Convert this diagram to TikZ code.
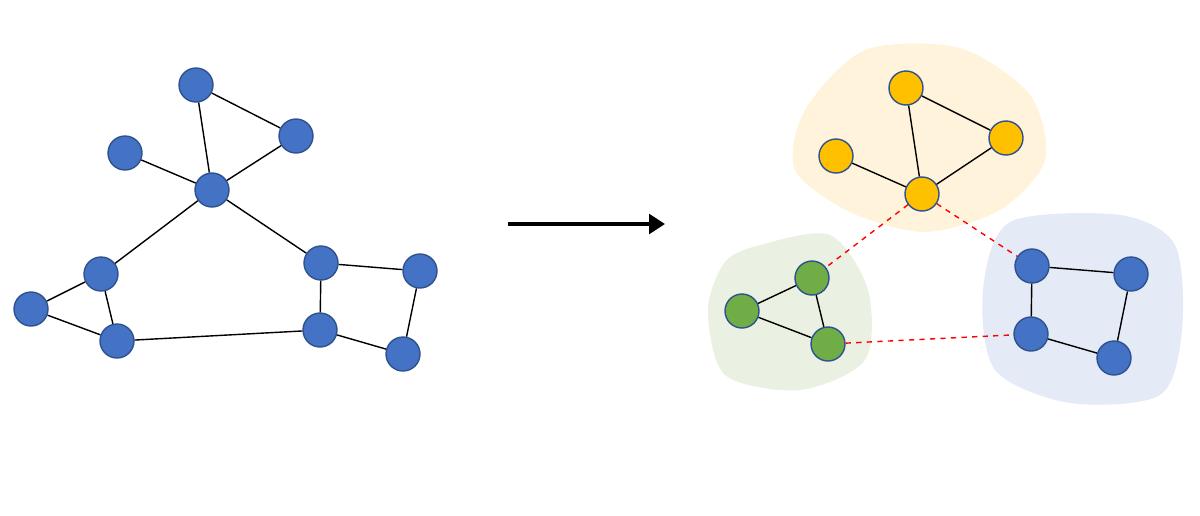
\documentclass[tikz,border=0pt]{standalone}
\usepackage{tikz}
\usetikzlibrary{arrows.meta}
\definecolor{nodeblue}{HTML}{4472C4}
\definecolor{nodeedge}{HTML}{2F528F}
\definecolor{nodeyellow}{HTML}{FFC000}
\definecolor{nodegreen}{HTML}{70AD47}
\definecolor{blobyellow}{HTML}{FFF4DB}
\definecolor{blobgreen}{HTML}{EAF1E2}
\definecolor{blobblue}{HTML}{E4EAF6}
\begin{document}
\begin{tikzpicture}[
        x=0.02cm, y=-0.02cm,
        vertex/.style={circle, draw=nodeedge, line width=0.8pt, minimum size=0.68cm, inner sep=0pt},
        bluev/.style={vertex, fill=nodeblue},
        yellowv/.style={vertex, fill=nodeyellow},
        greenv/.style={vertex, fill=nodegreen},
        link/.style={line width=0.8pt},
        cut/.style={red, dashed, line width=0.8pt}
    ]
        \useasboundingbox (0,0) rectangle (1200,515);

        % Clusters
        \fill[blobyellow] plot[smooth cycle] coordinates {(865,50) (960,48) (1030,95) (1045,160) (1000,210) (925,232) (850,212) (795,170) (805,110)};
        \fill[blobgreen] plot[smooth cycle] coordinates {(760,245) (830,235) (868,290) (865,360) (800,390) (725,375) (708,310) (725,262)};
        \fill[blobblue] plot[smooth cycle] coordinates {(1010,222) (1120,215) (1175,245) (1182,330) (1160,395) (1070,403) (995,370) (983,290)};

        % Input graph
        \node[bluev] (a) at (196,85) {};
        \node[bluev] (b) at (296,136) {};
        \node[bluev] (c) at (125,153) {};
        \node[bluev] (d) at (212,190) {};
        \node[bluev] (e) at (101,274) {};
        \node[bluev] (f) at (31,309) {};
        \node[bluev] (g) at (117,341) {};
        \node[bluev] (h) at (321,263) {};
        \node[bluev] (i) at (420,271) {};
        \node[bluev] (j) at (320,330) {};
        \node[bluev] (k) at (403,354) {};
        \begin{scope}[on background layer/.style={}]
        \end{scope}
        \foreach \u/\v in {a/b, a/d, b/d, c/d, d/e, d/h, e/f, e/g, f/g, g/j, h/i, h/j, i/k, j/k}
            \draw[link] (\u) -- (\v);

        % Arrow
        \coordinate (arrowstart) at (508,224);
        \coordinate (arrowend) at (665,224);
        \draw[line width=2.6pt, -{Triangle[length=9pt, width=11pt]}] (arrowstart) -- (arrowend);

        % Clustered graph
        \node[yellowv] (y1) at (906,88) {};
        \node[yellowv] (y2) at (1006,138) {};
        \node[yellowv] (y3) at (836,156) {};
        \node[yellowv] (y4) at (922,194) {};
        \node[greenv] (g1) at (812,278) {};
        \node[greenv] (g2) at (742,311) {};
        \node[greenv] (g3) at (828,344) {};
        \node[bluev] (b1) at (1032,266) {};
        \node[bluev] (b2) at (1131,274) {};
        \node[bluev] (b3) at (1031,334) {};
        \node[bluev] (b4) at (1114,358) {};
        \foreach \u/\v in {y1/y2, y1/y4, y2/y4, y3/y4, g1/g2, g1/g3, g2/g3, b1/b2, b1/b3, b2/b4, b3/b4}
            \draw[link] (\u) -- (\v);
        \draw[cut] (y4) -- (g1);
        \draw[cut] (y4) -- (b1);
        \draw[cut] (g3) -- (b3);

    \end{tikzpicture}
\end{document}
